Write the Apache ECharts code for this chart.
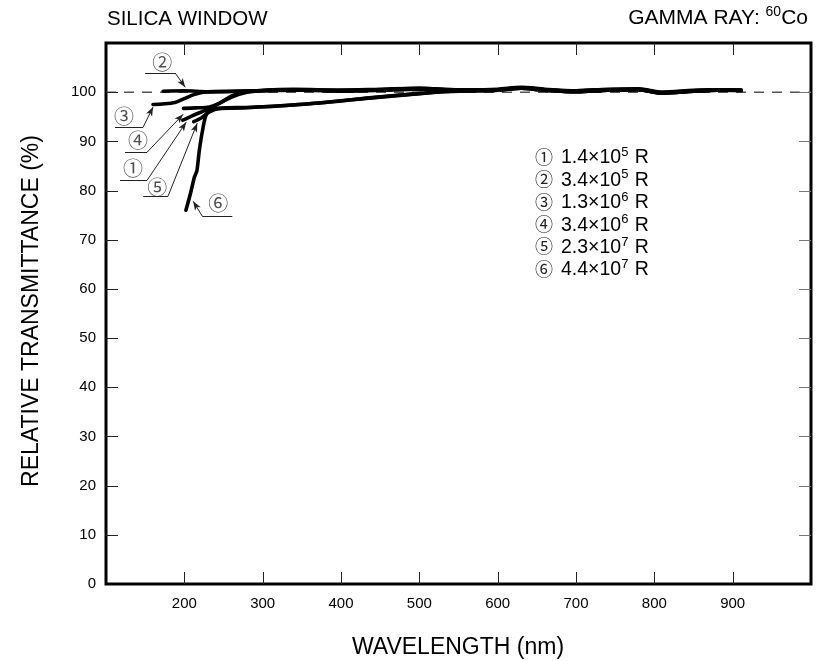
<!DOCTYPE html>
<html>
<head>
<meta charset="utf-8">
<script src="https://cdn.jsdelivr.net/npm/echarts@6/dist/echarts.min.js"></script>
<style>
html,body{margin:0;padding:0;background:#fff;}
#chart{width:827px;height:661px;}
</style>
</head>
<body>
<div id="chart"></div>
<script>
// ---- tick labels ----
const xTicks = [200, 300, 400, 500, 600, 700, 800, 900];
const yTicks = [0, 10, 20, 30, 40, 50, 60, 70, 80, 90, 100];

// ---- series: [wavelength nm, relative transmittance %] ----
const curve1 = [[198,94.3],[210,95.2],[225,96.2],[240,97.3],[255,98.6],[270,99.6],[290,100.2],[330,100.5],[380,100.4],[450,100.5],[500,100.7],[550,100.4],[600,100.5],[630,100.9],[660,100.5],[700,100.2],[740,100.5],[780,100.6],[810,99.9],[850,100.3],[880,100.5],[911,100.4]];
const curve2 = [[173,100.2],[200,100.3],[230,100.1],[260,100.2],[300,100.3],[350,100.5],[400,100.3],[450,100.5],[500,100.8],[550,100.4],[600,100.6],[630,101.0],[660,100.6],[700,100.3],[740,100.6],[780,100.7],[810,100.0],[850,100.4],[880,100.5],[911,100.4]];
const curve3 = [[160,97.5],[172,97.6],[188,97.9],[200,98.7],[212,99.5],[225,100.0],[250,100.1],[300,100.3],[350,100.4],[400,100.2],[450,100.4],[500,100.6],[550,100.3],[600,100.4],[630,100.8],[660,100.4],[700,100.1],[740,100.4],[780,100.5],[810,99.8],[850,100.2],[880,100.4],[911,100.4]];
const curve4 = [[199,96.7],[215,96.8],[232,97.0],[245,97.8],[260,99.2],[275,100.0],[300,100.4],[340,100.6],[400,100.4],[450,100.6],[500,100.8],[550,100.5],[600,100.5],[630,100.9],[660,100.5],[700,100.2],[740,100.5],[780,100.6],[810,99.9],[850,100.3],[880,100.5],[911,100.4]];
const curve5 = [[212,94.0],[222,94.8],[232,96.0],[245,96.7],[280,96.9],[330,97.3],[390,98.1],[450,99.0],[500,99.7],[540,100.2],[600,100.4],[630,100.8],[660,100.4],[700,100.1],[740,100.4],[780,100.5],[810,99.8],[850,100.2],[880,100.4],[911,100.3]];
const curve6 = [[202,76.0],[208,79.5],[213,82.8],[216,84.0],[219,88.0],[223,92.0],[228,95.4],[236,96.6],[270,96.8],[320,97.2],[380,97.9],[440,98.9],[490,99.6],[530,100.1],[570,100.3],[600,100.4],[630,100.8],[660,100.4],[700,100.1],[740,100.4],[780,100.5],[810,99.8],[850,100.2],[880,100.4],[911,100.4]];
const curves = [curve1, curve2, curve3, curve4, curve5, curve6];

// ---- legend (dose) texts ----
const marks = ['①','②','③','④','⑤','⑥'];
const doseBase = ['1.4×10','3.4×10','1.3×10','3.4×10','2.3×10','4.4×10'];
const doseExp = ['5','5','6','6','7','7'];

// ---- reference level ----
const refLevel = [[100,100],[1000,100]];

// ---- leader annotations (data coords): label pos, underline ends, arrow tip ----
const annLabel = [[134.6,84.6],[171.7,106.1],[123.0,95.1],[141.0,90.2],[165.3,80.7],[243.3,77.4]];
const annUnderA = [[117.9,82.1],[149.9,103.9],[111.5,92.9],[124.3,87.8],[147.4,78.9],[261.3,74.8]];
const annUnderB = [[152.5,82.1],[188.3,103.9],[147.4,92.9],[152.5,87.8],[179.3,78.9],[222.9,74.8]];
const annTip = [[202.4,93.9],[201.1,101.0],[160.1,97.0],[198.5,95.5],[216.5,93.7],[211.3,77.8]];

const chart = echarts.init(document.getElementById('chart'));
const F = "'Liberation Sans', Arial, sans-serif";
const CJK = "'Noto Sans CJK JP', 'DejaVu Sans', sans-serif";

const X_MIN = 100, X_MAX = 1000, Y_MIN = 0, Y_MAX = 110;
const gridBox = {left: 106, right: 16, top: 43, bottom: 77};

const markLineData = [];
for (let i = 0; i < 6; i++) {
  markLineData.push([{coord: annUnderA[i], symbol: 'none'}, {coord: annUnderB[i], symbol: 'none'}]);
  markLineData.push([{coord: annUnderB[i], symbol: 'none'}, {coord: annTip[i], symbol: 'arrow', symbolSize: [5, 9]}]);
}

const series = [];
series.push({
  type: 'line', data: refLevel, symbol: 'none', silent: true, z: 1,
  lineStyle: {color: '#555', width: 1.5, type: [10, 8]},
  markLine: {
    silent: true, animation: false, symbol: 'none',
    label: {show: false},
    lineStyle: {color: '#222', width: 1, type: 'solid'},
    data: markLineData
  }
});
curves.forEach(c => series.push({
  type: 'line', data: c, symbol: 'none', smooth: 0.3, z: 3,
  lineStyle: {color: '#000', width: 3.6, cap: 'round', join: 'round'}
}));
series.push({
  type: 'scatter', symbolSize: 0, z: 4,
  data: annLabel.map((p, i) => [p[0], p[1], marks[i]]),
  label: {show: true, position: 'inside', formatter: p => p.value[2],
          fontFamily: CJK, fontSize: 20, color: '#222'}
});

const legendGraphics = marks.map((m, i) => ({
  type: 'text', left: 535, top: 146 + i * 22.4,
  style: {
    text: '{c|' + m + '}{g|}{n|' + doseBase[i] + '}{s|' + doseExp[i] + '}{n| R}',
    rich: {
      c: {fontFamily: CJK, fontSize: 18, fill: '#222'},
      g: {width: 8},
      n: {fontFamily: F, fontSize: 19.5, fill: '#000', verticalAlign: 'bottom', lineHeight: 21},
      s: {fontFamily: F, fontSize: 13, fill: '#000', verticalAlign: 'top', padding: [0, 1, 9, 0]}
    }
  }
}));

const hidden = {show: false, onZero: false};
const textGraphics = [
  {type: 'text', left: 107, top: 9, style: {text: 'SILICA WINDOW', fontFamily: F, fontSize: 20.5, fill: '#000'}},
  {type: 'text', right: 19, top: 5, style: {
    text: '{n|GAMMA RAY: }{s|60}{n|Co}',
    rich: {
      n: {fontFamily: F, fontSize: 21, fill: '#000', verticalAlign: 'bottom', lineHeight: 24},
      s: {fontFamily: F, fontSize: 14, fill: '#000', verticalAlign: 'top', padding: [0, 0, 10, 0]}
    }}},
  {type: 'text', x: 458, y: 648, style: {text: 'WAVELENGTH (nm)', fontFamily: F, fontSize: 23, fill: '#000', align: 'center', verticalAlign: 'middle'}},
  {type: 'text', x: 32, y: 311, rotation: Math.PI / 2, style: {text: 'RELATIVE TRANSMITTANCE (%)', fontFamily: F, fontSize: 23, fill: '#000', align: 'center', verticalAlign: 'middle'}}
].concat(legendGraphics);

chart.setOption({
  animation: false,
  backgroundColor: '#fff',
  grid: Object.assign({show: true, borderColor: '#000', borderWidth: 3, backgroundColor: 'transparent'}, gridBox),
  xAxis: [{
    type: 'value', position: 'bottom', min: X_MIN, max: X_MAX, interval: 100,
    axisLine: hidden, splitLine: {show: false}, axisTick: {show: false},
    axisLabel: {margin: 12, fontFamily: F, fontSize: 15, color: '#000',
      formatter: v => xTicks.indexOf(v) >= 0 ? String(v) : ''}
  }],
  yAxis: [{
    type: 'value', position: 'left', min: Y_MIN, max: Y_MAX, interval: 10,
    axisLine: hidden, splitLine: {show: false}, axisTick: {show: false},
    axisLabel: {margin: 10, fontFamily: F, fontSize: 15, color: '#000',
      formatter: v => yTicks.indexOf(v) >= 0 ? String(v) : ''}
  }],
  graphic: textGraphics,
  series: series
});

// inward tick marks on all four frame edges, positioned through the chart's own scales
const tickGraphics = [];
const TL = 12;
const pTop = chart.convertToPixel({gridIndex: 0}, [X_MIN, Y_MAX]);
const pBot = chart.convertToPixel({gridIndex: 0}, [X_MAX, Y_MIN]);
xTicks.forEach(v => {
  const px = Math.round(chart.convertToPixel({gridIndex: 0}, [v, Y_MIN])[0]) + 0.5;
  tickGraphics.push({type: 'line', silent: true, z: 50, shape: {x1: px, y1: pBot[1], x2: px, y2: pBot[1] - TL}, style: {stroke: '#222', lineWidth: 1}});
  tickGraphics.push({type: 'line', silent: true, z: 50, shape: {x1: px, y1: pTop[1], x2: px, y2: pTop[1] + TL}, style: {stroke: '#222', lineWidth: 1}});
});
yTicks.forEach(v => {
  if (v === Y_MIN) return;
  const py = Math.round(chart.convertToPixel({gridIndex: 0}, [X_MIN, v])[1]) + 0.5;
  tickGraphics.push({type: 'line', silent: true, z: 50, shape: {x1: pTop[0], y1: py, x2: pTop[0] + TL, y2: py}, style: {stroke: '#222', lineWidth: 1}});
  tickGraphics.push({type: 'line', silent: true, z: 50, shape: {x1: pBot[0], y1: py, x2: pBot[0] - TL, y2: py}, style: {stroke: '#777', lineWidth: 1}});
});
chart.setOption({graphic: textGraphics.concat(tickGraphics)});
</script>
</body>
</html>
